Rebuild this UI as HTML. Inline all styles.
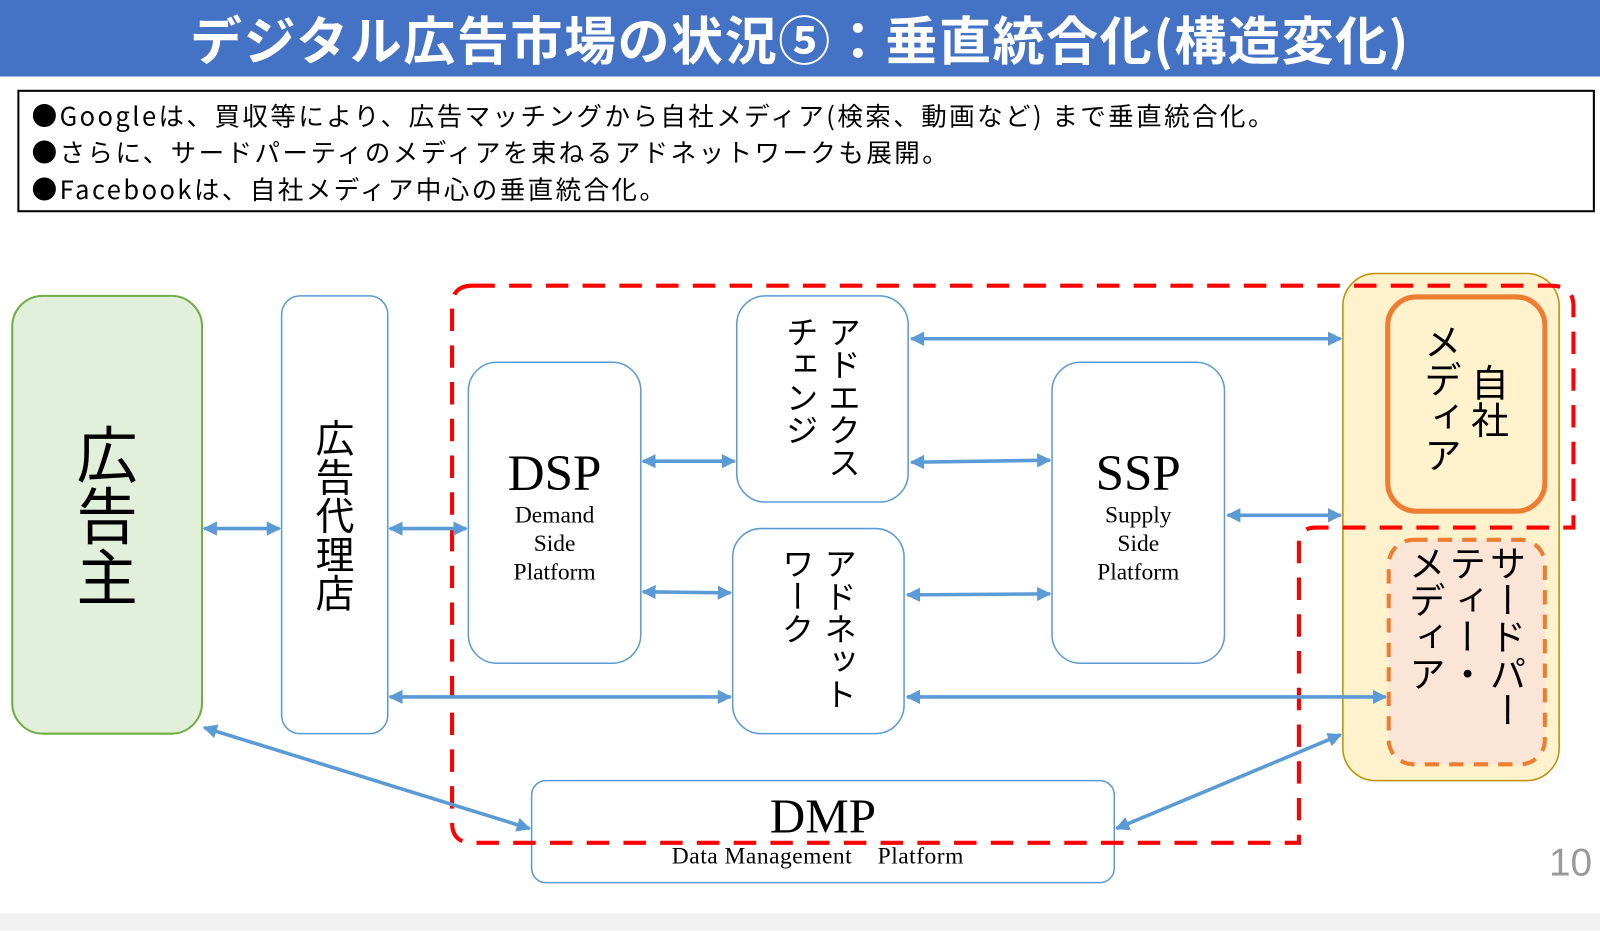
<!DOCTYPE html>
<html><head><meta charset="utf-8"><style>
body{margin:0;width:1600px;height:912px;position:relative;background:#fff;font-family:"Liberation Sans","Noto Sans CJK JP",sans-serif;overflow:hidden}
#w{position:absolute;left:0;top:0;width:1568px;height:894px;transform:scale(1.0204);transform-origin:0 0}
.a{position:absolute}
.c{position:absolute;display:flex;align-items:center;justify-content:center}
.v{writing-mode:vertical-rl;color:#000;font-family:"Noto Sans CJK JP",sans-serif;line-height:1.15}
.s{font-family:"Liberation Serif","Noto Serif CJK SC",serif;text-align:center;color:#000}
</style></head><body><div id="w">
<div class="a" style="left:0;top:0;width:1568px;height:75px;background:#4472c4;color:#fff;font-size:51px;font-weight:bold;text-align:center;line-height:75px;font-family:'Noto Sans CJK JP',sans-serif;letter-spacing:1.5px">デジタル広告市場の状況⑤：垂直統合化(構造変化)</div>
<div class="a" style="left:17px;top:88px;width:1546px;height:120px;border:2px solid #000;font-size:25px;line-height:36px;padding:5px 0 0 12px;box-sizing:border-box;font-family:'Noto Sans CJK JP',sans-serif;letter-spacing:2.4px">●Googleは、買収等により、広告マッチングから自社メディア(検索、動画など) まで垂直統合化。<br>●さらに、サードパーティのメディアを束ねるアドネットワークも展開。<br>●Facebookは、自社メディア中心の垂直統合化。</div>
<svg class="a" style="left:0;top:0" width="1568" height="894">
<defs><marker id="m" viewBox="0 0 10 10" refX="9" refY="5" markerWidth="4" markerHeight="4" orient="auto-start-reverse"><path d="M0,0L10,5L0,10z" fill="#5b9bd5"/></marker></defs>
<rect x="12" y="290" width="186" height="429" rx="30" fill="#e2efda" stroke="#70ad47" stroke-width="2"/>
<rect x="276" y="290" width="104" height="429" rx="18" fill="#fff" stroke="#5b9bd5" stroke-width="1.5"/>
<rect x="459" y="355" width="169" height="295" rx="28" fill="#fff" stroke="#5b9bd5" stroke-width="1.5"/>
<rect x="722" y="290" width="168" height="202" rx="28" fill="#fff" stroke="#5b9bd5" stroke-width="1.5"/>
<rect x="718" y="518" width="168" height="201" rx="28" fill="#fff" stroke="#5b9bd5" stroke-width="1.5"/>
<rect x="1031" y="355" width="169" height="295" rx="28" fill="#fff" stroke="#5b9bd5" stroke-width="1.5"/>
<rect x="521" y="765" width="571" height="100" rx="14" fill="#fff" stroke="#5b9bd5" stroke-width="1.5"/>
<rect x="1316" y="268" width="212" height="497" rx="32" fill="#fff2cc" stroke="#bf9000" stroke-width="1.5"/>
<rect x="1360" y="291" width="154" height="210" rx="28" fill="#fff2cc" stroke="#ed7d31" stroke-width="5"/>
<rect x="1361" y="529" width="153" height="220" rx="24" fill="#fbe5d6" stroke="#ed7d31" stroke-width="4" stroke-dasharray="14 10"/>
<path d="M463,280 L1520,280 Q1542,280 1542,300 L1542,517 L1290,517 Q1273,517 1273,532 L1273,826 L463,826 Q443,826 443,806 L443,300 Q443,280 463,280Z" fill="none" stroke="#ff0000" stroke-width="4" stroke-dasharray="22 14"/>
<g stroke="#5b9bd5" stroke-width="3.5" marker-start="url(#m)" marker-end="url(#m)">
<line x1="200" y1="518" x2="274" y2="518"/>
<line x1="382" y1="518" x2="457" y2="518"/>
<line x1="630" y1="452" x2="720" y2="452"/>
<line x1="630" y1="580" x2="716" y2="581"/>
<line x1="893" y1="332" x2="1314" y2="332"/>
<line x1="893" y1="453" x2="1029" y2="451"/>
<line x1="889" y1="583" x2="1029" y2="582"/>
<line x1="1203" y1="505" x2="1314" y2="505"/>
<line x1="382" y1="683" x2="716" y2="683"/>
<line x1="889" y1="683" x2="1358" y2="683"/>
<line x1="200" y1="713" x2="519" y2="812"/>
<line x1="1094" y1="812" x2="1314" y2="720"/>
</g>
</svg>
<div class="c" style="left:12px;top:290px;width:186px;height:429px"><div class="v" style="font-size:60px">広告主</div></div>
<div class="c" style="left:276px;top:290px;width:104px;height:429px"><div class="v" style="font-size:38px">広告代理店</div></div>
<div class="c" style="left:722px;top:290px;width:168px;height:202px"><div class="v" style="font-size:32px;line-height:1.3;height:165px">アドエクス<br>チェンジ</div></div>
<div class="c" style="left:718px;top:518px;width:168px;height:201px"><div class="v" style="font-size:32px;line-height:1.3;height:165px">アドネット<br>ワーク</div></div>
<div class="c" style="left:1360px;top:291px;width:154px;height:210px"><div class="v" style="font-size:37px;line-height:1.25;height:160px"><span style="padding-top:40px">自社</span><br>メディア</div></div>
<div class="c" style="left:1361px;top:529px;width:153px;height:220px"><div class="v" style="font-size:36px;line-height:1.1;height:210px">サードパー<br>ティー・<br>メディア</div></div>
<div class="a s" style="left:459px;top:435px;width:169px"><div style="font-size:50px;line-height:56px">DSP</div><div style="font-size:23px;line-height:28px">Demand<br>Side<br>Platform</div></div>
<div class="a s" style="left:1031px;top:435px;width:169px"><div style="font-size:50px;line-height:56px">SSP</div><div style="font-size:23px;line-height:28px">Supply<br>Side<br>Platform</div></div>
<div class="a s" style="left:521px;top:775px;width:571px"><div style="font-size:48px;line-height:52px">DMP</div><div style="font-size:23px;line-height:24px;margin-left:-10px;letter-spacing:0.5px">Data Management&nbsp;&nbsp;&nbsp;&nbsp;Platform</div></div>
<div class="a" style="left:1518px;top:825px;font-size:38px;color:#999">10</div>
<div class="a" style="left:0;top:895px;width:1568px;height:17px;background:#f2f2f2"></div>
</div></body></html>
